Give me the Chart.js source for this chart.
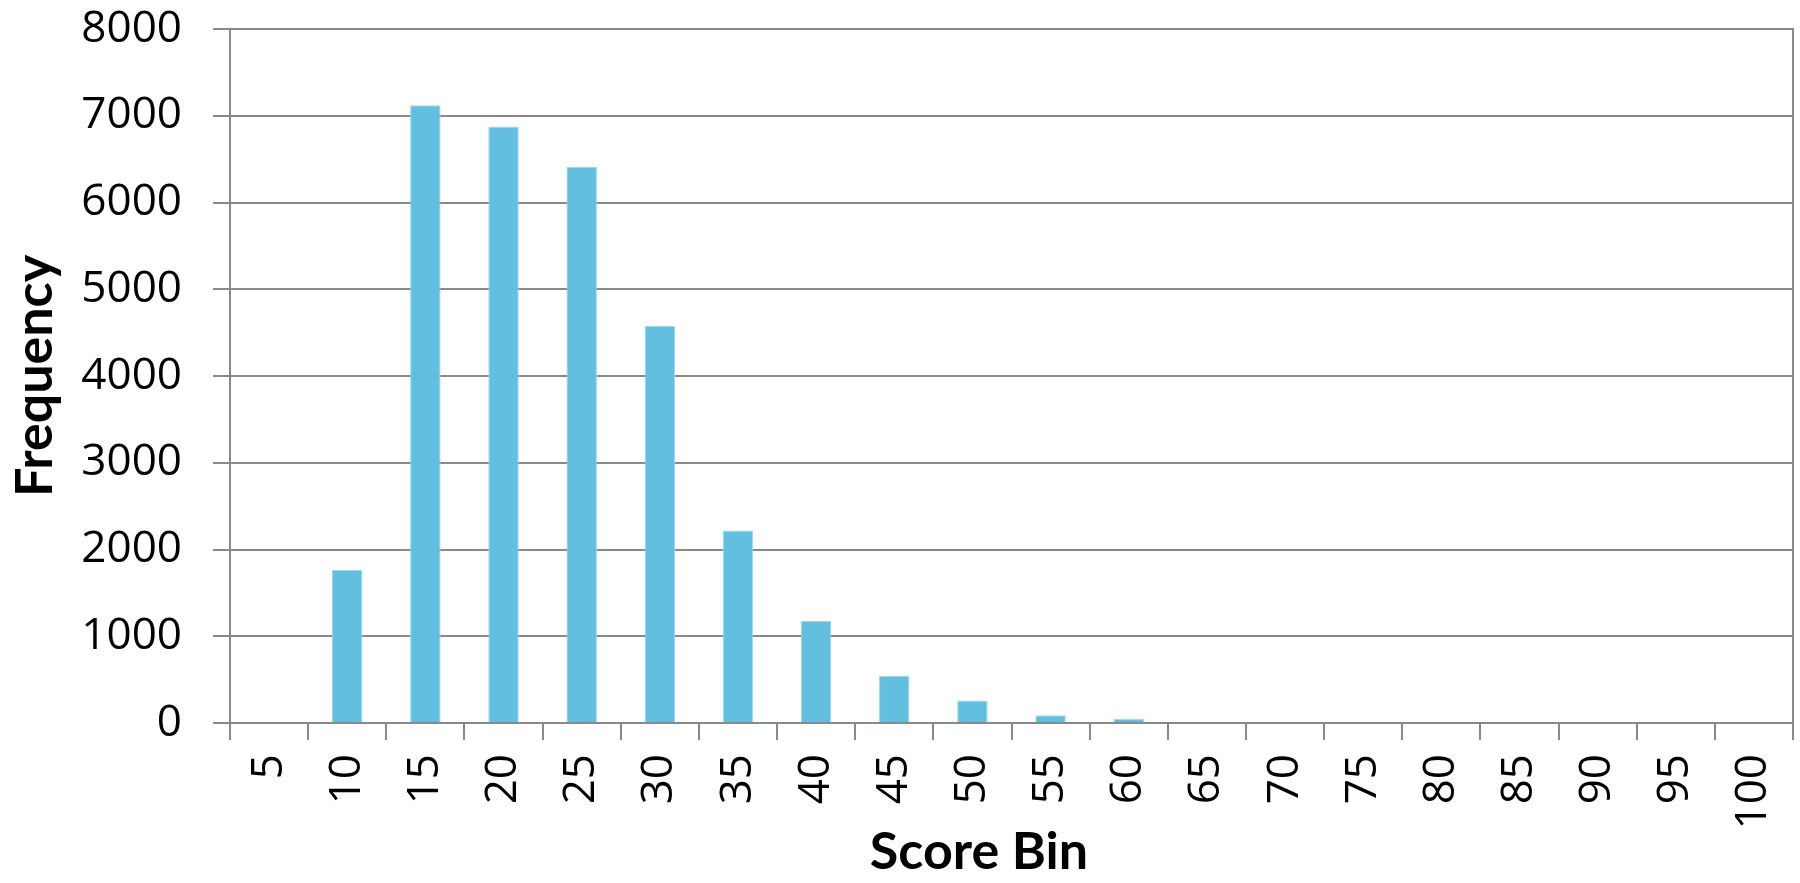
<!DOCTYPE html>
<html>
<head>
<meta charset="utf-8">
<style>
  html, body { margin: 0; padding: 0; background: #ffffff; }
  #wrap { width: 1800px; height: 883px; position: relative; }
</style>
<script src="https://cdn.jsdelivr.net/npm/chart.js@4/dist/chart.umd.min.js"></script>
</head>
<body>
<div id="wrap"><canvas id="chart" width="1800" height="883"></canvas></div>
<script>
// Score bins (upper edge of each bin)
const scoreBins = ['5', '10', '15', '20', '25', '30', '35', '40', '45', '50',
                   '55', '60', '65', '70', '75', '80', '85', '90', '95', '100'];

// Number of scores falling into each bin
const frequency = [0, 1765, 7120, 6875, 6410, 4575, 2220, 1175, 545, 258,
                   90, 48, 0, 0, 0, 0, 0, 0, 0, 0];

// Frequency axis ticks
const freqMin = 0;
const freqMax = 8000;
const freqStep = 1000;

const axisGray = '#898989';
const tickFont = { family: '"Open Sans", "Noto Sans", sans-serif', size: 44 };
const titleFont = { family: 'Lato, "Open Sans", sans-serif', size: 52, weight: 'bold' };

new Chart(document.getElementById('chart'), {
  type: 'bar',
  data: {
    labels: scoreBins,
    datasets: [{
      label: 'Frequency',
      data: frequency,
      backgroundColor: '#62BFDF',
      borderColor: '#9ED6EC',
      borderWidth: 1,
      categoryPercentage: 1.0,
      barPercentage: 0.39
    }]
  },
  options: {
    responsive: false,
    animation: false,
    devicePixelRatio: 1,
    layout: { padding: { top: 29, left: 0, right: 0, bottom: 0 } },
    plugins: {
      legend: { display: false },
      tooltip: { enabled: false }
    },
    scales: {
      x: {
        offset: true,
        grid: {
          offset: true,
          drawOnChartArea: false,
          drawTicks: true,
          tickLength: 17,
          color: axisGray,
          lineWidth: 2
        },
        border: { display: true, color: axisGray, width: 2 },
        ticks: {
          color: '#000000',
          font: tickFont,
          minRotation: 90,
          maxRotation: 90,
          autoSkip: false,
          padding: 14
        },
        title: {
          display: true,
          text: 'Score Bin\u2003\u2002',
          color: '#000000',
          font: titleFont,
          padding: { top: 0, bottom: 0 }
        },
        afterFit: (s) => {
          s.height = 160;
          s.paddingLeft = 0;
          s.paddingRight = 0;
        }
      },
      y: {
        min: freqMin,
        max: freqMax,
        grid: {
          color: axisGray,
          lineWidth: 2,
          drawTicks: true,
          tickLength: 17
        },
        border: { display: true, color: axisGray, width: 2 },
        ticks: {
          stepSize: freqStep,
          color: '#000000',
          font: tickFont,
          padding: 31,
          callback: (v) => String(v)
        },
        title: {
          display: true,
          text: 'Frequency',
          color: '#000000',
          font: titleFont,
          padding: { top: 4, bottom: 0 }
        },
        afterFit: (s) => {
          s.width = 230;
          s.paddingTop = 0;
          s.paddingBottom = 0;
        }
      },
      yRight: {
        position: 'right',
        min: freqMin,
        max: freqMax,
        grid: { drawOnChartArea: false, drawTicks: false },
        border: { display: true, color: axisGray, width: 2 },
        ticks: { display: false },
        afterFit: (s) => {
          s.width = 7;
          s.paddingTop = 0;
          s.paddingBottom = 0;
        }
      }
    }
  }
});
</script>
</body>
</html>
